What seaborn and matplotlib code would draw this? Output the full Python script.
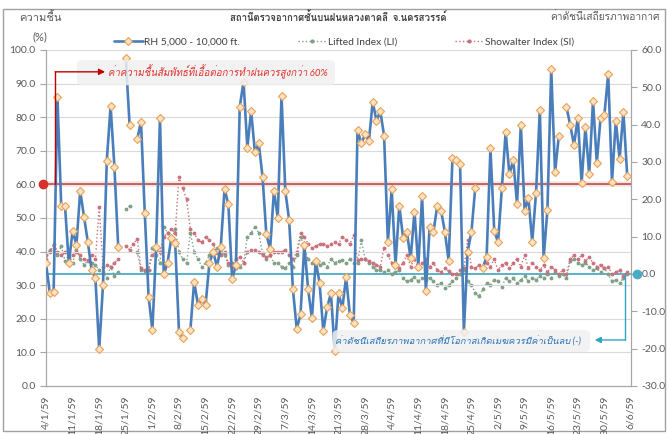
import numpy as np
import pandas as pd
import seaborn as sns
import matplotlib
matplotlib.use('Agg')
import matplotlib.pyplot as plt
from matplotlib import font_manager
from matplotlib.ft2font import FT2Font
from matplotlib.lines import Line2D
from matplotlib.patches import FancyBboxPatch, Rectangle

nan = np.nan

# daily values, 4/1/59 .. 6/6/59 (155 days), nan = no sounding
rh = [
    36.5, 27.6, 28.1, 86.1, 53.6, 53.6, 36.5, 46.2, 42.0, 58.0,
    50.4, 42.9, 34.5, 32.0, 11.0, 30.1, 67.1, 83.3, 65.3, 41.4,
    nan, 97.5, 77.7, nan, 73.4, 78.7, 51.4, 26.6, 16.7, 41.5,
    79.7, 33.2, 36.7, 44.1, 42.7, 16.2, 14.2, nan, 16.7, 31.0,
    24.1, 25.9, 24.1, 36.5, 40.0, 35.5, 41.3, 58.6, 54.1, 31.7,
    36.0, 83.1, 90.6, 70.9, 81.8, 69.5, 72.2, 62.3, 45.1, 40.8,
    58.1, 50.1, 86.4, 58.0, 49.4, 28.8, 17.0, 21.3, 42.0, 28.8,
    20.1, 37.2, 30.8, 16.4, 23.4, 27.6, 10.5, 27.6, 23.1, 32.4,
    21.1, 18.8, 76.2, 72.2, 74.9, 72.9, 84.6, 78.9, 81.8, 74.5,
    42.9, 58.6, 36.0, 53.7, 44.1, 45.7, 38.0, 51.9, 35.5, 56.5,
    28.3, 47.4, 45.9, 53.7, 52.2, 45.9, 37.2, 67.8, 67.3, 66.1,
    16.2, 40.0, 45.9, 59.0, nan, 35.2, 38.5, 70.7, 46.1, 42.8,
    58.8, 75.5, 63.0, 67.3, 54.2, 77.7, 52.1, 56.0, 42.8, 57.5,
    82.1, 38.0, 52.4, 94.3, 63.6, 74.4, nan, 83.1, 77.7, 71.7,
    79.9, 60.5, 77.0, 63.0, 84.9, 66.5, 79.9, 80.7, 92.9, 60.8,
    78.9, 67.6, 81.6, 62.6, nan,
]

li = [
    4, 6.5, 7, 5, 7.5, 3.5, 5, 3, 6.5, 4,
    2.5, 3.5, 3, 2.5, 1, 0.5, -1, 2, -0.5, 0.5,
    nan, 17.3, 18.2, nan, 6, 1, 0.8, 1, 7, 5,
    3, 12.7, 11, 9, 12, 6, 4, 3, 11, 6,
    4, 2, 3, 5, 6, 7, 6, 5, 2.5, 3,
    1.5, 2, 3, 10, 11, 12.7, 11, 5.5, 4, 5,
    3, 3, 2, 1.5, 3, 2, 5, 10, 7, 4,
    3, 4, 2.5, 3, 2, 4, 3, 3.5, 3.7, 3,
    4, 3, 3, 9, 4, 3, 2, 1, 1, 0.5,
    1, 0, 0.5, 1, -1, -2, -1.5, -0.7, -2, -1,
    -1.5, -1, -2, -3, -2.5, -3.8, -3, -2, -1, 0,
    1, -2, -3, -5, -6, -4, -2.5, -3, -1.5, -2,
    -3.5, -1, -2, -1, -2.5, -1.5, -0.5, -2, -1, -1.5,
    -0.5, -1, 0, -1, 0.5, -0.5, 0, -1, 3.5, 4,
    3, 2.5, 3, 2, 1, 1.5, 0.5, 1.5, 0, -2,
    -1.5, -2.5, -1, 0, nan,
]

si = [
    5, 6, 8, 6, 5, 6, 4.5, 5, 6, 5,
    4, 3.7, 5, 4, 18, 2, 2.5, 2, 3, 4,
    nan, 7.5, 6.5, 8, 9.5, 1.5, 1, 1.2, 5, 6.4,
    6, 10, 11, 12, 11, 26, 23, 20, 12, 11,
    9, 8.5, 10, 9, 8, 5.5, 5, 6, 3, 2,
    4, 4.6, 3, 6, 6.4, 6.4, 6, 5, 4.5, 5,
    6, 6, 6, 6.5, 5, 4, 6, 10.9, 10, 8,
    7, 7.5, 8, 8, 7.5, 8, 8.5, 8, 10, 9,
    8, 10.4, 3.7, 4, 4, 3.5, 3, 2.5, 2, 7,
    5, 3, 2, 1.5, 3, 5, 2, 4, 1.5, 3,
    4, 2, 3, 1, 0.5, 1.5, 0.8, 0, 0, 1,
    1.5, 9, 2, 1.5, 2.5, 2, 3, 2, 4, 1,
    2.5, 3, 1.5, 3, 4, 2, 5, 1.5, 3, 2,
    1, 2.5, 0.5, 2, 1, 0, 1, 0, 4, 5,
    4, 5, 3.5, 4.5, 3, 2, 2.5, 1.5, 2, 0,
    0.5, 1, -0.5, 0.5, nan,
]

tick_labels = ['4/1/59', '11/1/59', '18/1/59', '25/1/59', '1/2/59', '8/2/59',
               '15/2/59', '22/2/59', '29/2/59', '7/3/59', '14/3/59', '21/3/59',
               '28/3/59', '4/4/59', '11/4/59', '18/4/59', '25/4/59', '2/5/59',
               '9/5/59', '16/5/59', '23/5/59', '30/5/59', '6/6/59']

dates = pd.date_range('2016-01-04', '2016-06-06', freq='D')
tick_dates = dates[::7]

df = pd.DataFrame({'date': dates, 'rh': rh, 'li': li, 'si': si})


def pieces(col):
    # split series at missing days so the line breaks like in Excel
    d = df[['date', col]].copy()
    d['seg'] = d[col].isna().cumsum()
    return d.dropna()


sns.set_style('white')

# find an installed font that has Thai glyphs
thai = None
for f in font_manager.fontManager.ttflist:
    try:
        if 0x0E2A in FT2Font(f.fname).get_charmap():
            thai = f.name
            break
    except Exception:
        pass
fams = ['Lato', thai, 'DejaVu Sans'] if thai else ['Lato', 'DejaVu Sans']
plt.rcParams['font.family'] = fams

BLUE = '#4a7ebb'
LI_C = '#7f9f86'
SI_C = '#c9707c'
GRAY = '#595959'

fig = plt.figure(figsize=(6.68, 4.34), dpi=100)
ax = fig.add_axes([0.0689, 0.1106, 0.8757, 0.7742])
ax2 = ax.twinx()
ax.set_zorder(ax2.get_zorder() + 1)
ax.patch.set_visible(False)

# secondary: stability indices
ax2.axhline(0, color='#4bacc6', lw=1.3, zorder=1)
sns.lineplot(data=pieces('li'), x='date', y='li', units='seg', estimator=None,
             ax=ax2, color=LI_C, lw=1, ls=':', marker='o', markersize=2,
             markeredgecolor=LI_C, legend=False)
sns.lineplot(data=pieces('si'), x='date', y='si', units='seg', estimator=None,
             ax=ax2, color=SI_C, lw=1, ls=':', marker='o', markersize=2,
             markeredgecolor=SI_C, legend=False)
ax2.plot([dates[-1] + pd.Timedelta(days=1.6)], [0], 'o', color='#4bacc6',
         ms=6, clip_on=False, zorder=5)

# primary: RH
ax.axhline(60, color='#c0504d', lw=4, alpha=0.15, zorder=1)
ax.axhline(60, color='#c0504d', lw=1.2, zorder=1)
sns.lineplot(data=pieces('rh'), x='date', y='rh', units='seg', estimator=None,
             ax=ax, color=BLUE, lw=1.9, marker='D', markersize=3.7,
             markerfacecolor='#fbe3c2', markeredgecolor='#e8a25a',
             markeredgewidth=0.8, legend=False, zorder=3)
ax.plot([dates[0] - pd.Timedelta(days=0.8)], [60], 'o', color='#d8302c',
        ms=6, clip_on=False, zorder=5)

# axes cosmetics
ax.set_xlim(dates[0], dates[-1])
ax.set_ylim(0, 100)
ax2.set_ylim(-30, 60)
yl = np.arange(0, 101, 10)
ax.set_yticks(yl)
ax.set_yticklabels([f'{v:.1f}' for v in yl])
yr = np.arange(-30, 61, 10)
ax2.set_yticks(yr)
ax2.set_yticklabels([f'{v:.1f}' for v in yr])
ax.set_xticks(tick_dates)
ax.set_xticklabels(tick_labels, rotation=90)
ax.set_xticks(dates, minor=True)
ax.set_xlabel('')
ax.set_ylabel('')
ax2.set_ylabel('')
ax.yaxis.grid(True, color='#d9d9d9', lw=0.8)
ax.xaxis.grid(False)
ax.tick_params(axis='both', labelsize=7.5, colors=GRAY)
ax.tick_params(axis='y', length=4, color='#a6a6a6')
ax.tick_params(axis='x', which='major', length=5, color='#a6a6a6', pad=2)
ax.tick_params(axis='x', which='minor', length=3, color='#a6a6a6', width=0.6)
ax2.tick_params(axis='y', labelsize=7.5, colors=GRAY, length=4)
ax2.tick_params(axis='y', color='#a6a6a6')
for a in (ax, ax2):
    a.spines['top'].set_visible(False)
    for s in ('left', 'bottom', 'right'):
        a.spines[s].set_color('#a6a6a6')
        a.spines[s].set_linewidth(0.8)

# red note: RH favourable above 60 %
ax.add_patch(FancyBboxPatch((0.053, 0.895), 0.441, 0.075,
                            boxstyle='round,pad=0,rounding_size=0.012',
                            transform=ax.transAxes, fc='#f0f0f0', ec='none',
                            alpha=0.85, zorder=6))
ax.plot([0.0154, 0.0154], [0.6, 0.935], transform=ax.transAxes,
        color='#c00000', lw=1, zorder=7, clip_on=False)
ax.annotate('', xy=(0.101, 0.935), xytext=(0.0154, 0.935),
            xycoords='axes fraction',
            arrowprops=dict(arrowstyle='-|>', color='#c00000', lw=1,
                            mutation_scale=9, shrinkA=0, shrinkB=0), zorder=7)
ax.text(0.106, 0.935, 'ค่าความชื้นสัมพัทธ์ที่เอื้อต่อการทำฝนควรสูงกว่า 60%',
        transform=ax.transAxes, color='#e0302c', fontsize=7, style='italic',
        va='center', ha='left', zorder=8)

# blue note: stability index should be negative
ax.add_patch(FancyBboxPatch((0.49, 0.101), 0.44, 0.066,
                            boxstyle='round,pad=0,rounding_size=0.012',
                            transform=ax.transAxes, fc='#f0f0f0', ec='none',
                            alpha=0.85, zorder=6))
ax.plot([0.989, 0.989], [0.333, 0.137], transform=ax.transAxes,
        color='#31a4c4', lw=1, zorder=7, clip_on=False)
ax.annotate('', xy=(0.938, 0.137), xytext=(0.989, 0.137),
            xycoords='axes fraction',
            arrowprops=dict(arrowstyle='-|>', color='#31a4c4', lw=1,
                            mutation_scale=9, shrinkA=0, shrinkB=0), zorder=7)
ax.text(0.494, 0.134, 'ค่าดัชนีเสถียรภาพอากาศที่มีโอกาสเกิดเมฆควรมีค่าเป็นลบ (-)',
        transform=ax.transAxes, color='#2e75b6', fontsize=6.8, style='italic',
        va='center', ha='left', zorder=8)

# titles and axis captions
fig.text(0.506, 0.961, 'สถานีตรวจอากาศชั้นบนฝนหลวงตาคลี  จ.นครสวรรค์',
         ha='center', va='center', fontsize=6.9, color='#404040', fontweight='bold')
fig.text(0.06, 0.961, 'ความชื้น', ha='center', va='center', fontsize=8, color=GRAY)
fig.text(0.06, 0.915, '(%)', ha='center', va='center', fontsize=8, color=GRAY)
fig.text(0.905, 0.961, 'ค่าดัชนีเสถียรภาพอากาศ', ha='center', va='center',
         fontsize=7.3, color=GRAY)

# legend
h_rh = Line2D([], [], color=BLUE, lw=1.9, marker='D', ms=3.7,
              mfc='#fbe3c2', mec='#e8a25a', mew=0.8)
h_li = Line2D([], [], color=LI_C, lw=1, ls=':', marker='o', ms=2)
h_si = Line2D([], [], color=SI_C, lw=1, ls=':', marker='o', ms=2)
fig.legend([h_rh, h_li, h_si],
           ['RH 5,000 - 10,000 ft.', 'Lifted Index (LI)', 'Showalter Index (SI)'],
           loc='center', bbox_to_anchor=(0.515, 0.903), ncol=3, frameon=False,
           fontsize=7.4, handlelength=2.8, columnspacing=5.6, handletextpad=0.15,
           labelcolor='#404040')

# outer frame of the chart
fig.add_artist(Rectangle((0.005, 0.008), 0.99, 0.972, transform=fig.transFigure,
                         fill=False, ec='#a0a0a0', lw=1))

fig.savefig('out.png', dpi=100)
